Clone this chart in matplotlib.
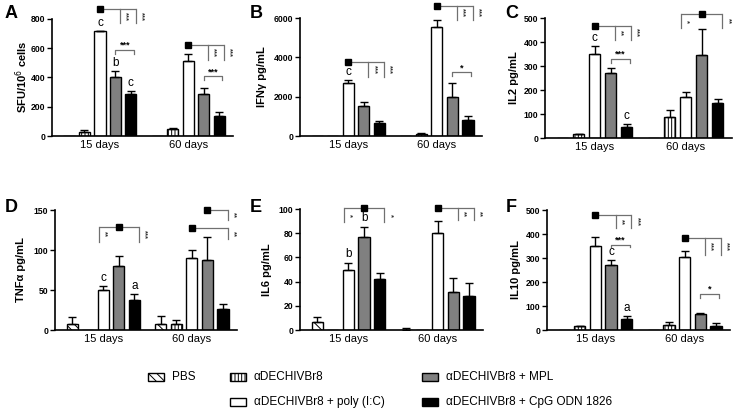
import matplotlib
matplotlib.use("Agg")
import matplotlib.pyplot as plt
from matplotlib.patches import Rectangle
import numpy as np

plt.rcParams['font.family'] = ['Liberation Sans', 'DejaVu Sans']
plt.rcParams['hatch.linewidth'] = 0.7

# ---------------- data ----------------
groups = ["15 days", "60 days"]
series = ["PBS", "αDECHIVBr8", "αDECHIVBr8 + poly (I:C)", "αDECHIVBr8 + MPL", "αDECHIVBr8 + CpG ODN 1826"]

# values[group][series]
A_vals = [[3, 30, 715, 405, 285], [0, 50, 515, 285, 140]]
A_err = [[0, 10, 6, 40, 20], [0, 8, 45, 40, 25]]
B_vals = [[0, 0, 2700, 1500, 650], [20, 100, 5550, 2000, 800]]
B_err = [[0, 0, 150, 220, 100], [0, 50, 350, 700, 200]]
C_vals = [[0, 15, 350, 270, 45], [0, 88, 172, 345, 145]]
C_err = [[0, 3, 35, 22, 15], [0, 30, 20, 110, 18]]
D_vals = [[8, 0, 50, 80, 38], [8, 7, 90, 88, 26]]
D_err = [[8, 0, 5, 12, 7], [10, 5, 10, 28, 7]]
E_vals = [[7, 0, 50, 77, 42], [0, 0, 80, 31, 28]]
E_err = [[4, 0, 5, 8, 5], [2, 0, 10, 12, 11]]
F_vals = [[0, 15, 350, 270, 45], [0, 20, 305, 65, 15]]
F_err = [[0, 3, 38, 22, 15], [0, 15, 25, 5, 15]]

ylabels = ["SFU/10$^6$ cells", "IFN\u03b3 pg/mL", "IL2 pg/mL", "TNF\u03b1 pg/mL", "IL6 pg/mL", "IL10 pg/mL"]
yticks = [[0, 200, 400, 600, 800], [0, 2000, 4000, 6000], [0, 100, 200, 300, 400, 500],
          [0, 50, 100, 150], [0, 20, 40, 60, 80, 100], [0, 100, 200, 300, 400, 500]]

# ---------------- styles ----------------
faces = ['white', 'white', 'white', '#808080', 'black']
hatches = ['\\\\\\\\', '|||||', None, None, None]
GAP = 5.7
W = 0.72
OFFS = [-2, -1, 0, 1, 2]
BR = '#707070'

W_PX, H_PX = 735, 411
fig = plt.figure(figsize=(W_PX / 100, H_PX / 100), dpi=100)


def ax_at(l, r, top, bot):
    return fig.add_axes([l / W_PX, 1 - bot / H_PX, (r - l) / W_PX, (bot - top) / H_PX])


def bx(g, s):
    return g * GAP + OFFS[s]


def draw(ax, vals, errs, ytk):
    for g in range(2):
        for s in range(5):
            x = bx(g, s)
            v = vals[g][s]
            ax.bar(x, v, width=W, color=faces[s], edgecolor='black', linewidth=1.0,
                   hatch=hatches[s], zorder=2)
            e = errs[g][s]
            if e > 0:
                ax.errorbar(x, v, yerr=[[0], [e]], fmt='none', ecolor='black',
                            elinewidth=1.0, capsize=2.8, capthick=1.0, zorder=3)
    ax.set_xlim(-3.1, GAP + 2.9)
    ax.set_ylim(0, ytk[-1])
    ax.set_yticks(ytk)
    ax.set_yticklabels([str(t) for t in ytk], fontsize=6.2, fontweight='bold')
    ax.set_xticks([0, GAP])
    ax.set_xticklabels(groups, fontsize=8)
    ax.tick_params(axis='x', length=0, pad=3)
    ax.tick_params(axis='y', length=3.5, width=1.0, pad=1.2)
    for sp in ['top', 'right']:
        ax.spines[sp].set_visible(False)
    ax.spines['left'].set_linewidth(1.2)
    ax.spines['bottom'].set_linewidth(1.2)
    ax.spines['left'].set_bounds(0, ytk[-1])


def letter(ax, vals, errs, g, s, txt, pad):
    ax.text(bx(g, s), vals[g][s] + errs[g][s] + pad, txt, ha='center', va='bottom',
            fontsize=8.5, clip_on=False)


def tree(ax, sq, x0, x1, y, drops, ybot):
    # horizontal line with square marker and vertical drops with stars
    ax.plot([x0, x1], [y, y], color=BR, lw=0.9, clip_on=False, zorder=4, solid_capstyle='butt')
    ax.plot([sq], [y], marker='s', ms=3.8, color='black', clip_on=False, zorder=5)
    for xd, st in drops:
        ax.plot([xd, xd], [y, ybot], color=BR, lw=0.9, clip_on=False, zorder=4)
        ax.text(xd + 0.12, (y + ybot) / 2, st, rotation=270, ha='left', va='center',
                fontsize=5.5, fontweight='bold', clip_on=False, color='#333333')


def hbr(ax, x0, x1, y, tick, txt):
    ax.plot([x0, x0, x1, x1], [y - tick, y, y, y - tick], color=BR, lw=0.9,
            clip_on=False, zorder=4)
    ax.text((x0 + x1) / 2, y, txt, ha='center', va='bottom', fontsize=6.5,
            fontweight='bold', clip_on=False)


axA = ax_at(52, 233, 19, 136)
axB = ax_at(300, 482, 18, 136)
axC = ax_at(545, 732, 18, 138)
axD = ax_at(55, 237, 210, 330)
axE = ax_at(300, 483, 209, 330)
axF = ax_at(547, 730, 210, 330)

panels = [(axA, A_vals, A_err), (axB, B_vals, B_err), (axC, C_vals, C_err),
          (axD, D_vals, D_err), (axE, E_vals, E_err), (axF, F_vals, F_err)]
for i, (ax, v, e) in enumerate(panels):
    draw(ax, v, e, yticks[i])

# panel letters and y labels
letters = ['A', 'B', 'C', 'D', 'E', 'F']
let_pos = [(5, 14), (250, 14), (505, 14), (5, 207), (250, 207), (506, 207)]
lab_x = [22, 262, 514, 21, 267, 516]
lab_y = [77, 77, 78, 270, 270, 270]
for i in range(6):
    fig.text(let_pos[i][0] / W_PX, 1 - let_pos[i][1] / H_PX, letters[i], fontsize=13,
             fontweight='bold', ha='left', va='center')
    fig.text(lab_x[i] / W_PX, 1 - lab_y[i] / H_PX, ylabels[i], fontsize=8,
             fontweight='bold', rotation=90, ha='center', va='center')

# ---- annotations ----
d = 0.3
# A
letter(axA, A_vals, A_err, 0, 2, 'c', 10)
letter(axA, A_vals, A_err, 0, 3, 'b', 15)
letter(axA, A_vals, A_err, 0, 4, 'c', 15)
tree(axA, bx(0, 2), bx(0, 2), bx(0, 4) + d, 868, [(bx(0, 3) + d, '***'), (bx(0, 4) + d, '***')], 770)
hbr(axA, bx(0, 3), bx(0, 4) + 0.2, 588, 25, '***')
tree(axA, bx(1, 2), bx(1, 2), bx(1, 4) + d, 624, [(bx(1, 3) + d, '***'), (bx(1, 4) + d, '***')], 520)
hbr(axA, bx(1, 3), bx(1, 4) + 0.2, 409, 25, '***')
# B
letter(axB, B_vals, B_err, 0, 2, 'c', 100)
tree(axB, bx(0, 2), bx(0, 2), bx(0, 4) + d, 3760, [(bx(0, 3) + d, '***'), (bx(0, 4) + d, '***')], 3000)
tree(axB, bx(1, 2), bx(1, 2), bx(1, 4) + d, 6610, [(bx(1, 3) + d, '***'), (bx(1, 4) + d, '***')], 5900)
hbr(axB, bx(1, 3), bx(1, 4) + 0.2, 3250, 180, '*')
# C
letter(axC, C_vals, C_err, 0, 2, 'c', 8)
letter(axC, C_vals, C_err, 0, 4, 'c', 8)
tree(axC, bx(0, 2), bx(0, 2), bx(0, 4) + d, 467, [(bx(0, 3) + d, '**'), (bx(0, 4) + d, '***')], 408)
hbr(axC, bx(0, 3), bx(0, 4) + 0.2, 329, 15, '***')
tree(axC, bx(1, 3), bx(1, 2) - d, bx(1, 4) + d, 517, [(bx(1, 2) - d, '*'), (bx(1, 4) + d, '**')], 458)
# D
letter(axD, D_vals, D_err, 0, 2, 'c', 3)
letter(axD, D_vals, D_err, 0, 4, 'a', 3)
tree(axD, bx(0, 3), bx(0, 2) - d, bx(0, 4) + d, 129, [(bx(0, 2) - d, '**'), (bx(0, 4) + d, '***')], 110)
tree(axD, bx(1, 2), bx(1, 2), bx(1, 4) + d, 127, [(bx(1, 4) + d, '**')], 114)
tree(axD, bx(1, 3), bx(1, 3), bx(1, 4) + d, 150, [(bx(1, 4) + d, '**')], 137)
# E
letter(axE, E_vals, E_err, 0, 2, 'b', 3)
letter(axE, E_vals, E_err, 0, 3, 'b', 3)
tree(axE, bx(0, 3), bx(0, 2) - d, bx(0, 4) + d, 101, [(bx(0, 2) - d, '*'), (bx(0, 4) + d, '*')], 89)
tree(axE, bx(1, 2), bx(1, 2), bx(1, 4) + d, 101, [(bx(1, 3) + d, '**'), (bx(1, 4) + d, '**')], 91)
# F
letter(axF, F_vals, F_err, 0, 3, 'c', 6)
letter(axF, F_vals, F_err, 0, 4, 'a', 8)
tree(axF, bx(0, 2), bx(0, 2), bx(0, 4) + d, 479, [(bx(0, 3) + d, '**'), (bx(0, 4) + d, '***')], 425)
hbr(axF, bx(0, 3), bx(0, 4) + 0.2, 356, 12, '***')
tree(axF, bx(1, 2), bx(1, 2), bx(1, 4) + d, 383, [(bx(1, 3) + d, '***'), (bx(1, 4) + d, '***')], 312)
hbr(axF, bx(1, 3), bx(1, 4) + 0.2, 150, 15, '*')

# ---- legend (manual) ----
leg = [(148, 377, 0), (230, 377, 1), (230, 402, 2), (422, 377, 3), (422, 402, 4)]
for px, py, s in leg:
    r = Rectangle((px / W_PX, 1 - (py + 4) / H_PX), 16 / W_PX, 8 / H_PX,
                  transform=fig.transFigure, facecolor=faces[s], edgecolor='black',
                  linewidth=1.0, hatch=hatches[s] if s < 2 else None)
    fig.patches.append(r)
    fig.text((px + 24) / W_PX, 1 - py / H_PX, series[s], fontsize=8.5,
             ha='left', va='center')

fig.savefig('out.png', dpi=100)
